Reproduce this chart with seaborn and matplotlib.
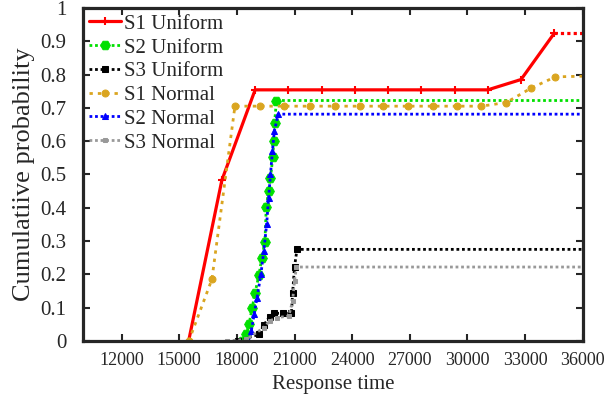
import matplotlib
matplotlib.use('Agg')
import matplotlib.pyplot as plt
import seaborn as sns

# 数据
s1u_x = [15490, 17220, 18950, 20680, 22410, 24140, 25870, 27600, 29330, 31060, 32790, 34520]
s1u_y = [0, 0.483, 0.754, 0.754, 0.754, 0.754, 0.754, 0.754, 0.754, 0.754, 0.785, 0.924]

s2u_x = [18250, 18500, 18630, 18800, 18940, 19150, 19300, 19460, 19530, 19650, 19750, 19870, 19920, 19960, 20060, 36000]
s2u_y = [0, 0.02, 0.05, 0.1, 0.143, 0.198, 0.25, 0.298, 0.403, 0.45, 0.489, 0.553, 0.6, 0.654, 0.722, 0.722]

s3u_x = [18080, 19150, 19410, 19700, 19930, 20400, 20840, 20900, 21000, 21130, 36000]
s3u_y = [0, 0.02, 0.048, 0.073, 0.083, 0.083, 0.083, 0.143, 0.223, 0.275, 0.275]

s1n_x = [15500, 16700, 17900, 19180, 20440, 21800, 23100, 24400, 25610, 26900, 28200, 29440, 30730, 32020, 33310, 34570, 36000]
s1n_y = [0, 0.185, 0.705, 0.705, 0.705, 0.705, 0.705, 0.705, 0.705, 0.705, 0.705, 0.705, 0.705, 0.716, 0.759, 0.793, 0.795]

s2n_x = [18600, 18750, 18900, 19050, 19250, 19400, 19550, 19650, 19750, 19850, 19950, 20150, 36000]
s2n_y = [0, 0.03, 0.08, 0.13, 0.2, 0.27, 0.35, 0.43, 0.5, 0.57, 0.63, 0.681, 0.681]

s3n_x = [17500, 18500, 19400, 19700, 20100, 20700, 20900, 21000, 21100, 36000]
s3n_y = [0, 0.005, 0.04, 0.06, 0.07, 0.075, 0.12, 0.18, 0.222, 0.222]

xticks = [12000, 15000, 18000, 21000, 24000, 27000, 30000, 33000, 36000]
yticks = [0, 0.1, 0.2, 0.3, 0.4, 0.5, 0.6, 0.7, 0.8, 0.9, 1]

sns.set_style('ticks')
plt.rcParams['font.family'] = ['Liberation Serif', 'DejaVu Serif']

fig, ax = plt.subplots(figsize=(6.07, 3.96), dpi=100)
fig.subplots_adjust(left=0.137, right=0.96, top=0.98, bottom=0.139)

sns.lineplot(x=s1u_x, y=s1u_y, ax=ax, sort=False, estimator=None, color='red', lw=2.3,
             marker='+', markersize=6, mew=1.5, mec='red', label='S1 Uniform')
ax.plot([s1u_x[-1], 36000], [s1u_y[-1], s1u_y[-1]], color='red', lw=2.3, ls=(0, (1, 1)))
sns.lineplot(x=s2u_x, y=s2u_y, ax=ax, sort=False, estimator=None, color='#00e000', lw=2,
             ls=(0, (1, 1)), marker='H', markersize=7, mec='#00e000', markevery=slice(0, -1),
             label='S2 Uniform')
sns.lineplot(x=s3u_x, y=s3u_y, ax=ax, sort=False, estimator=None, color='black', lw=2,
             ls=(0, (1, 1)), marker='s', markersize=5, mec='black', markevery=slice(0, -1),
             label='S3 Uniform')
sns.lineplot(x=s1n_x, y=s1n_y, ax=ax, sort=False, estimator=None, color='#daa520', lw=2,
             ls=(0, (1.2, 1.8)), marker='o', markersize=5, mec='#daa520', markevery=slice(0, -1),
             label='S1 Normal')
sns.lineplot(x=s2n_x, y=s2n_y, ax=ax, sort=False, estimator=None, color='#0000ff', lw=2,
             ls=(0, (1, 1)), marker='^', markersize=4.5, mec='#0000ff', markevery=slice(0, -1),
             label='S2 Normal')
sns.lineplot(x=s3n_x, y=s3n_y, ax=ax, sort=False, estimator=None, color='#999999', lw=2,
             ls=(0, (1, 1)), marker='s', markersize=3, mec='#999999', markevery=slice(0, -1),
             label='S3 Normal')

ax.set_xlim(10000, 36000)
ax.set_ylim(0, 1)
ax.set_xticks(xticks)
ax.set_xticklabels([str(t) for t in xticks])
ax.set_yticks(yticks)
ax.set_yticklabels(['%g' % t for t in yticks])
ax.tick_params(direction='in', length=5, width=1.5, labelsize=13, top=True, right=True)
ax.tick_params(axis='y', pad=12, labelsize=15)
ax.tick_params(axis='x', pad=8)
for sp in ax.spines.values():
    sp.set_linewidth(2.3)
    sp.set_visible(True)

ax.set_xlabel('Response time', fontsize=15, labelpad=4)
ax.set_ylabel('Cumulatiive probability', fontsize=19, labelpad=4)

ax.legend(loc='upper left', frameon=False, fontsize=15, handlelength=1.5,
          handletextpad=0.15, labelspacing=0.2, borderaxespad=0.1, borderpad=0.2)

plt.savefig('out.png', dpi=100)
